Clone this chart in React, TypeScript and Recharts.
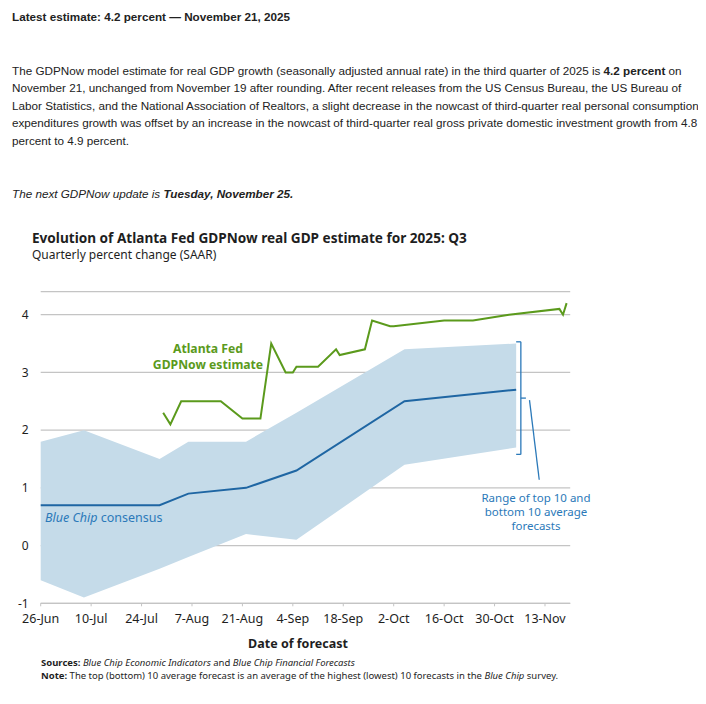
import React from 'react';
import {
  ComposedChart, Area, Line, XAxis, YAxis, CartesianGrid, ReferenceLine,
} from 'recharts';

// day 0 = 26-Jun-2025
const tickDays = [0, 14, 28, 42, 56, 70, 84, 98, 112, 126, 140];
const tickLabels = ['26-Jun', '10-Jul', '24-Jul', '7-Aug', '21-Aug', '4-Sep', '18-Sep', '2-Oct', '16-Oct', '30-Oct', '13-Nov'];

// Blue Chip survey dates, consensus and top/bottom 10 averages
const bcDays = [0, 12, 33, 41, 57, 71, 101, 132];
const bcConsensus = [0.7, 0.7, 0.7, 0.9, 1.0, 1.3, 2.5, 2.7];
const bcBottom10 = [-0.6, -0.9, -0.4, -0.2, 0.2, 0.1, 1.4, 1.7];
const bcTop10 = [1.8, 2.0, 1.5, 1.8, 1.8, 2.3, 3.4, 3.5];

// GDPNow estimates
const nowDays = [34, 36, 39, 50, 56, 61, 64, 68, 70, 71, 77, 82, 83, 90, 92, 97, 98, 112, 120, 130, 144, 145, 146];
const nowValues = [2.3, 2.1, 2.5, 2.5, 2.2, 2.2, 3.5, 3.0, 3.0, 3.1, 3.1, 3.4, 3.3, 3.4, 3.9, 3.8, 3.8, 3.9, 3.9, 4.0, 4.1, 4.0, 4.2];

const yTicks = [-1, 0, 1, 2, 3, 4];

const bcData = bcDays.map((day, i) => ({ day, mid: bcConsensus[i], range: [bcBottom10[i], bcTop10[i]] }));
const nowData = nowDays.map((day, i) => ({ day, val: nowValues[i] }));

const GREEN = '#5b9a1c';
const BLUE = '#1f66a3';
const LBLUE = '#2b79b9';
const BAND = '#c5dbe9';
const GRID = '#c4c4c4';
const INK = '#1e1e1e';
const CF = '"Noto Sans", sans-serif';

const abs = (left, top, extra = {}) => ({ position: 'absolute' as const, left, top, whiteSpace: 'nowrap' as const, ...extra });

export default function App() {
  const hdr = { fontFamily: '"Liberation Sans", Arial, sans-serif', fontSize: 11.7, color: '#222', lineHeight: '17.4px' };
  const green = { width: 120, textAlign: 'center' as const, fontFamily: CF, fontSize: 12.2, fontWeight: 'bold', color: GREEN, lineHeight: '16px' };
  return (
    <div style={{ position: 'relative', margin: -8, width: 706, height: 704, overflow: 'hidden', background: '#fff' }}>
      <div style={{ position: 'absolute', left: 0, top: 0 }}>
        <ComposedChart width={706} height={704} data={bcData}
          margin={{ top: 291.6, right: 135.8, bottom: 70.7, left: 10.7 }}>
          <CartesianGrid horizontal vertical={false} stroke={GRID} strokeWidth={1.2} />
          <XAxis type="number" dataKey="day" domain={[0, 147]} ticks={tickDays} height={30}
            tickFormatter={(v) => tickLabels[tickDays.indexOf(v)]}
            axisLine={{ stroke: GRID, strokeWidth: 1.2 }} tickLine={{ stroke: GRID }} tickSize={3} tickMargin={8}
            tick={{ fill: INK, fontSize: 12.5, fontFamily: CF }} interval={0} />
          <YAxis type="number" domain={[-1, 4.4]} ticks={yTicks} width={30} axisLine={false} tickLine={false}
            tickMargin={6} tick={{ fill: INK, fontSize: 12, fontFamily: CF }} />
          <Area dataKey="range" type="linear" stroke="none" fill={BAND} fillOpacity={1} isAnimationActive={false} />
          <Line dataKey="mid" type="linear" stroke={BLUE} strokeWidth={2} dot={false} isAnimationActive={false} />
          <Line data={nowData} dataKey="val" type="linear" stroke={GREEN} strokeWidth={2} dot={false} isAnimationActive={false} />
          <ReferenceLine segment={[{ x: 133.3, y: 3.53 }, { x: 133.3, y: 1.58 }]} stroke={LBLUE} strokeWidth={1.3} />
          <ReferenceLine segment={[{ x: 132, y: 3.53 }, { x: 133.3, y: 3.53 }]} stroke={LBLUE} strokeWidth={1.3} />
          <ReferenceLine segment={[{ x: 132, y: 1.58 }, { x: 133.3, y: 1.58 }]} stroke={LBLUE} strokeWidth={1.3} />
          <ReferenceLine segment={[{ x: 133.3, y: 2.555 }, { x: 134.7, y: 2.555 }]} stroke={LBLUE} strokeWidth={1.3} />
          <ReferenceLine segment={[{ x: 135.7, y: 2.52 }, { x: 138.4, y: 1.14 }]} stroke={LBLUE} strokeWidth={1.3} />
        </ComposedChart>
      </div>

      <div style={abs(12, 10, { ...hdr, fontWeight: 'bold', lineHeight: '14px' })}>
        Latest estimate: 4.2 percent — November 21, 2025
      </div>
      <div style={abs(12, 62, hdr)}>
        The GDPNow model estimate for real GDP growth (seasonally adjusted annual rate) in the third quarter of 2025 is <b>4.2 percent</b> on<br />
        November 21, unchanged from November 19 after rounding. After recent releases from the US Census Bureau, the US Bureau of<br />
        Labor Statistics, and the National Association of Realtors, a slight decrease in the nowcast of third-quarter real personal consumption<br />
        expenditures growth was offset by an increase in the nowcast of third-quarter real gross private domestic investment growth from 4.8<br />
        percent to 4.9 percent.
      </div>
      <div style={abs(12, 184.5, { ...hdr, fontStyle: 'italic' })}>
        The next GDPNow update is <b>Tuesday, November 25.</b>
      </div>

      <div style={abs(32, 230, { fontFamily: CF, fontSize: 13.6, fontWeight: 'bold', color: INK, lineHeight: '16px' })}>
        Evolution of Atlanta Fed GDPNow real GDP estimate for 2025: Q3
      </div>
      <div style={abs(32, 248, { fontFamily: CF, fontSize: 12, color: INK, lineHeight: '14px' })}>
        Quarterly percent change (SAAR)
      </div>

      <div style={abs(148, 340.5, green)}>Atlanta Fed</div>
      <div style={abs(148, 356.5, green)}>GDPNow estimate</div>
      <div style={abs(45, 510, { fontFamily: CF, fontSize: 12.5, color: LBLUE, lineHeight: '16px' })}>
        <i>Blue Chip</i> consensus
      </div>
      <div style={abs(476, 491, { width: 120, textAlign: 'center', fontFamily: CF, fontSize: 11.5, color: LBLUE, lineHeight: '14px' })}>
        Range of top 10 and<br />bottom 10 average<br />forecasts
      </div>

      <div style={abs(248, 636, { width: 100, textAlign: 'center', fontFamily: CF, fontSize: 12.5, fontWeight: 'bold', color: INK, lineHeight: '16px' })}>
        Date of forecast
      </div>
      <div style={abs(41, 657, { fontFamily: CF, fontSize: 9.5, color: INK, lineHeight: '12.5px' })}>
        <b>Sources:</b> <i>Blue Chip Economic Indicators</i> and <i>Blue Chip Financial Forecasts</i><br />
        <b>Note:</b> The top (bottom) 10 average forecast is an average of the highest (lowest) 10 forecasts in the <i>Blue Chip</i> survey.
      </div>
    </div>
  );
}
